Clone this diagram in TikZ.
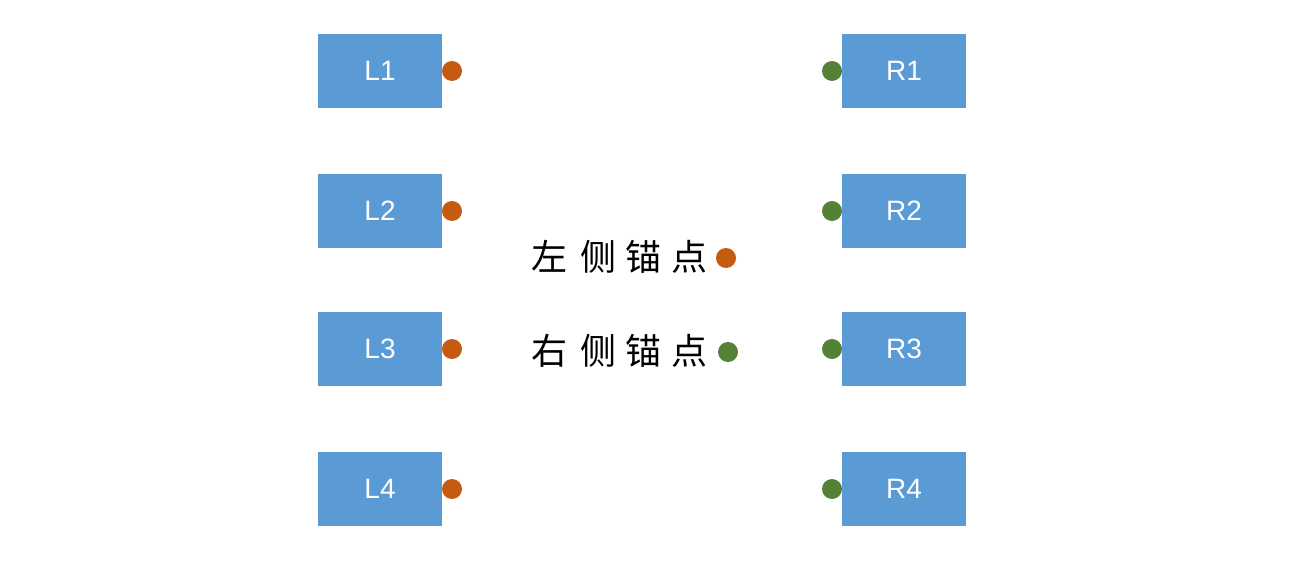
\documentclass[tikz,border=0pt]{standalone}
\usepackage{fontspec}
\setsansfont{Liberation Sans}
\newfontfamily\cjk{Noto Sans CJK SC}
\definecolor{boxblue}{HTML}{5B9BD5}
\definecolor{dotorange}{HTML}{C55A11}
\definecolor{dotgreen}{HTML}{538135}
\begin{document}
\begin{tikzpicture}[x=0.75pt,y=-0.75pt,
  blockbox/.style={fill=boxblue,draw=none,minimum width=93pt,minimum height=55.5pt,inner sep=0pt,text=white,font=\sffamily\fontsize{21}{25}\selectfont},
  ldot/.style={circle,fill=dotorange,draw=none,minimum size=15pt,inner sep=0pt},
  rdot/.style={circle,fill=dotgreen,draw=none,minimum size=15pt,inner sep=0pt},
  legend/.style={anchor=west,inner sep=0pt,font=\cjk\fontsize{27}{31}\selectfont}]
\useasboundingbox (0,0) rectangle (1306,574);
\fill[white] (0,0) rectangle (1306,574);
\foreach \i/\y in {1/71,2/211,3/349,4/489}{
  \node[blockbox] (L\i) at (380,\y) {L\i};
  \node[ldot] (LD\i) at (452,\y) {};
  \node[blockbox] (R\i) at (904,\y) {R\i};
  \node[rdot] (RD\i) at (832,\y) {};
}
\node[legend] (lt) at (531,257) {左\hspace{10pt}侧\hspace{7pt}锚\hspace{7pt}点};
\node[ldot] (ld) at (726,258) {};
\node[legend] (rt) at (531,351) {右\hspace{10pt}侧\hspace{7pt}锚\hspace{7pt}点};
\node[rdot] (rd) at (728,352) {};
\end{tikzpicture}
\end{document}
